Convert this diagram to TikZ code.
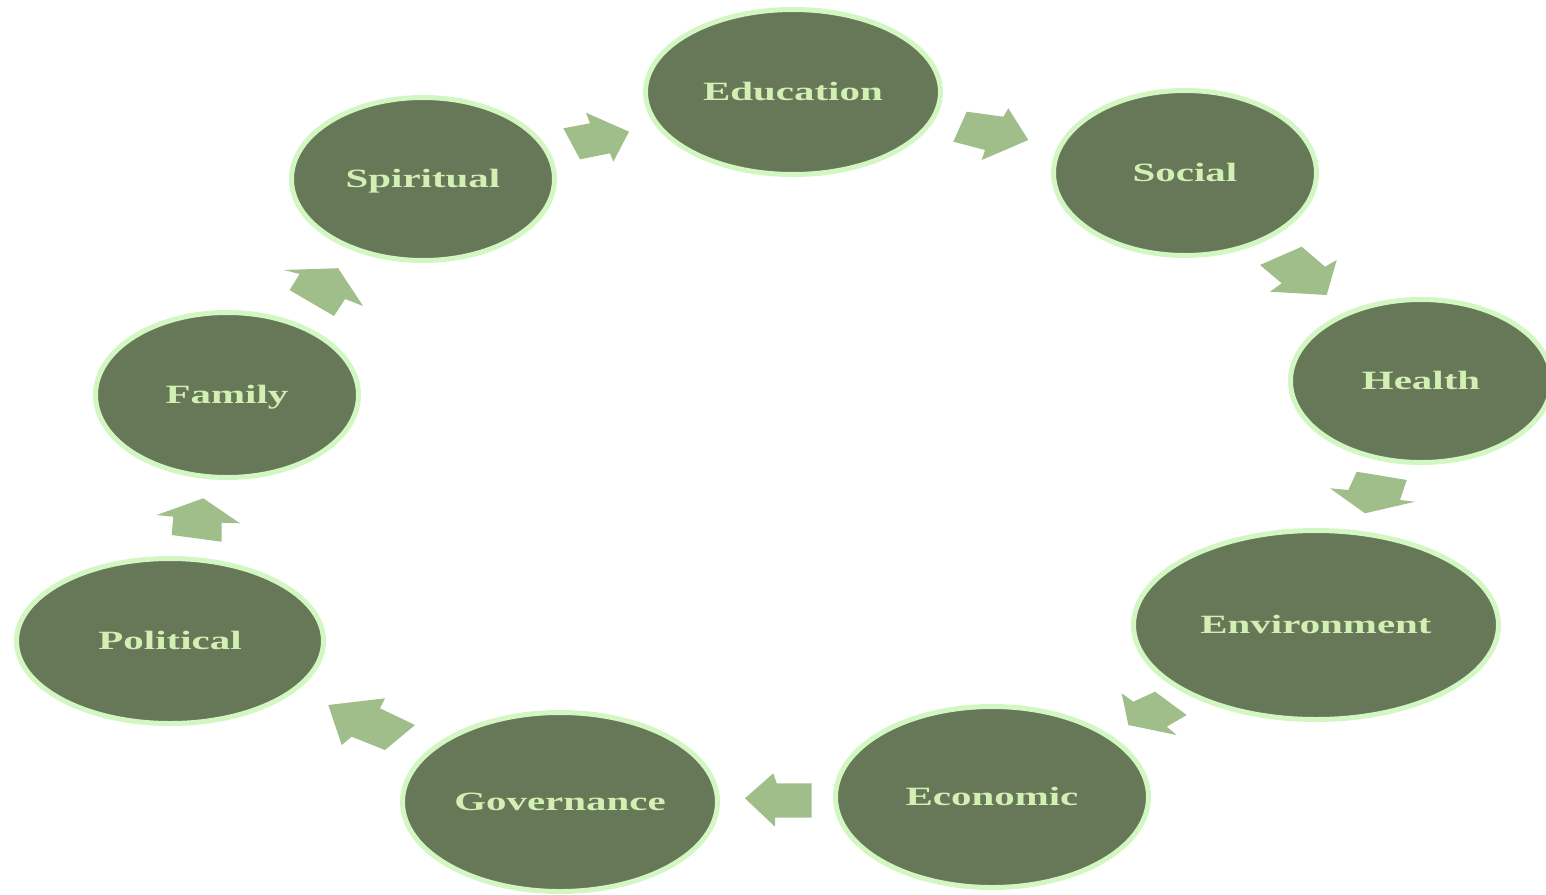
\documentclass[tikz,border=0pt]{standalone}
\usepackage{fontspec}
\setmainfont{Liberation Serif}
\usetikzlibrary{shapes.geometric}
\definecolor{bubfill}{HTML}{677858}
\definecolor{bubline}{HTML}{D2F7C2}
\definecolor{bubtext}{HTML}{D2F0B4}
\definecolor{arrowfill}{HTML}{A0BE8A}
\newcommand{\lbl}[1]{\scalebox{1.55}[1]{#1}}
\tikzset{
  bub/.style={ellipse, fill=bubfill, draw=bubline, line width=2.5pt, inner sep=0pt,
    text=bubtext, font=\fontsize{13.2}{14}\selectfont\bfseries,
    text height=8.7pt, text depth=0pt},
  blockarrow/.style={fill=arrowfill, draw=none}
}
\begin{document}
\begin{tikzpicture}[x=0.5pt,y=-0.5pt]
\useasboundingbox (0,0) rectangle (1546,894);
\node[bub, minimum width=147.5pt, minimum height=82.5pt] (education) at (793,92) {\lbl{Education}};
\node[bub, minimum width=131.5pt, minimum height=81.5pt] (spiritual) at (423,179) {\lbl{Spiritual}};
\node[bub, minimum width=131.5pt, minimum height=82.5pt] (social) at (1185,173) {\lbl{Social}};
\node[bub, minimum width=130.5pt, minimum height=81.5pt] (health) at (1421,381) {\lbl{Health}};
\node[bub, minimum width=182.5pt, minimum height=94.5pt] (environment) at (1316,625) {\lbl{Environment}};
\node[bub, minimum width=156.5pt, minimum height=90.5pt] (economic) at (992,797) {\lbl{Economic}};
\node[bub, minimum width=157.5pt, minimum height=89.5pt] (governance) at (560,802) {\lbl{Governance}};
\node[bub, minimum width=153.5pt, minimum height=82.5pt] (political) at (170,641) {\lbl{Political}};
\node[bub, minimum width=131.5pt, minimum height=82.5pt] (family) at (227,395) {\lbl{Family}};
% Spiritual -> Education
\path[blockarrow] (563.3,128.3) -- (590,123.3) -- (586,112.7) -- (629,131.7) -- (613.3,161.7) -- (610,153.3) -- (580,159.3) -- cycle;
% Education -> Social
\path[blockarrow] (966.7,111.7) -- (1003.3,116.7) -- (1008.3,108.3) -- (1028.3,140) -- (981.7,160) -- (985,150) -- (953.3,141.7) -- cycle;
% Social -> Health
\path[blockarrow] (1260,265) -- (1301.7,246.7) -- (1325,266.7) -- (1336.7,260) -- (1326.7,295) -- (1270,291.7) -- (1281.7,283.3) -- cycle;
% Health -> Environment
\path[blockarrow] (1356.7,471.7) -- (1406.7,480) -- (1400,500) -- (1415,501.7) -- (1365,513.3) -- (1330,488.3) -- (1348.3,490) -- cycle;
% Environment -> Economic
\path[blockarrow] (1121.7,693.3) -- (1133.3,701.7) -- (1155,691.7) -- (1186.7,715) -- (1166.7,726.7) -- (1176.7,735) -- (1128.3,725) -- cycle;
% Economic -> Governance
\path[blockarrow] (745,798.3) -- (773.3,773.3) -- (776.7,783.3) -- (811.7,783.3) -- (811.7,817.7) -- (775,817.7) -- (775,826.7) -- cycle;
% Governance -> Political
\path[blockarrow] (328.3,705) -- (385,698.3) -- (380,708.3) -- (415,725) -- (385,750) -- (351.7,736.7) -- (341.7,745) -- cycle;
% Political -> Family
\path[blockarrow] (203.3,498.3) -- (240,523.3) -- (221.7,522.7) -- (221.7,541.7) -- (171.7,535) -- (173.3,516.7) -- (156.7,515) -- cycle;
% Family -> Spiritual
\path[blockarrow] (338.1,268.2) -- (363.1,306) -- (345.1,299) -- (334,316) -- (289.6,290.1) -- (299.6,274) -- (284,270) -- cycle;
\end{tikzpicture}
\end{document}
